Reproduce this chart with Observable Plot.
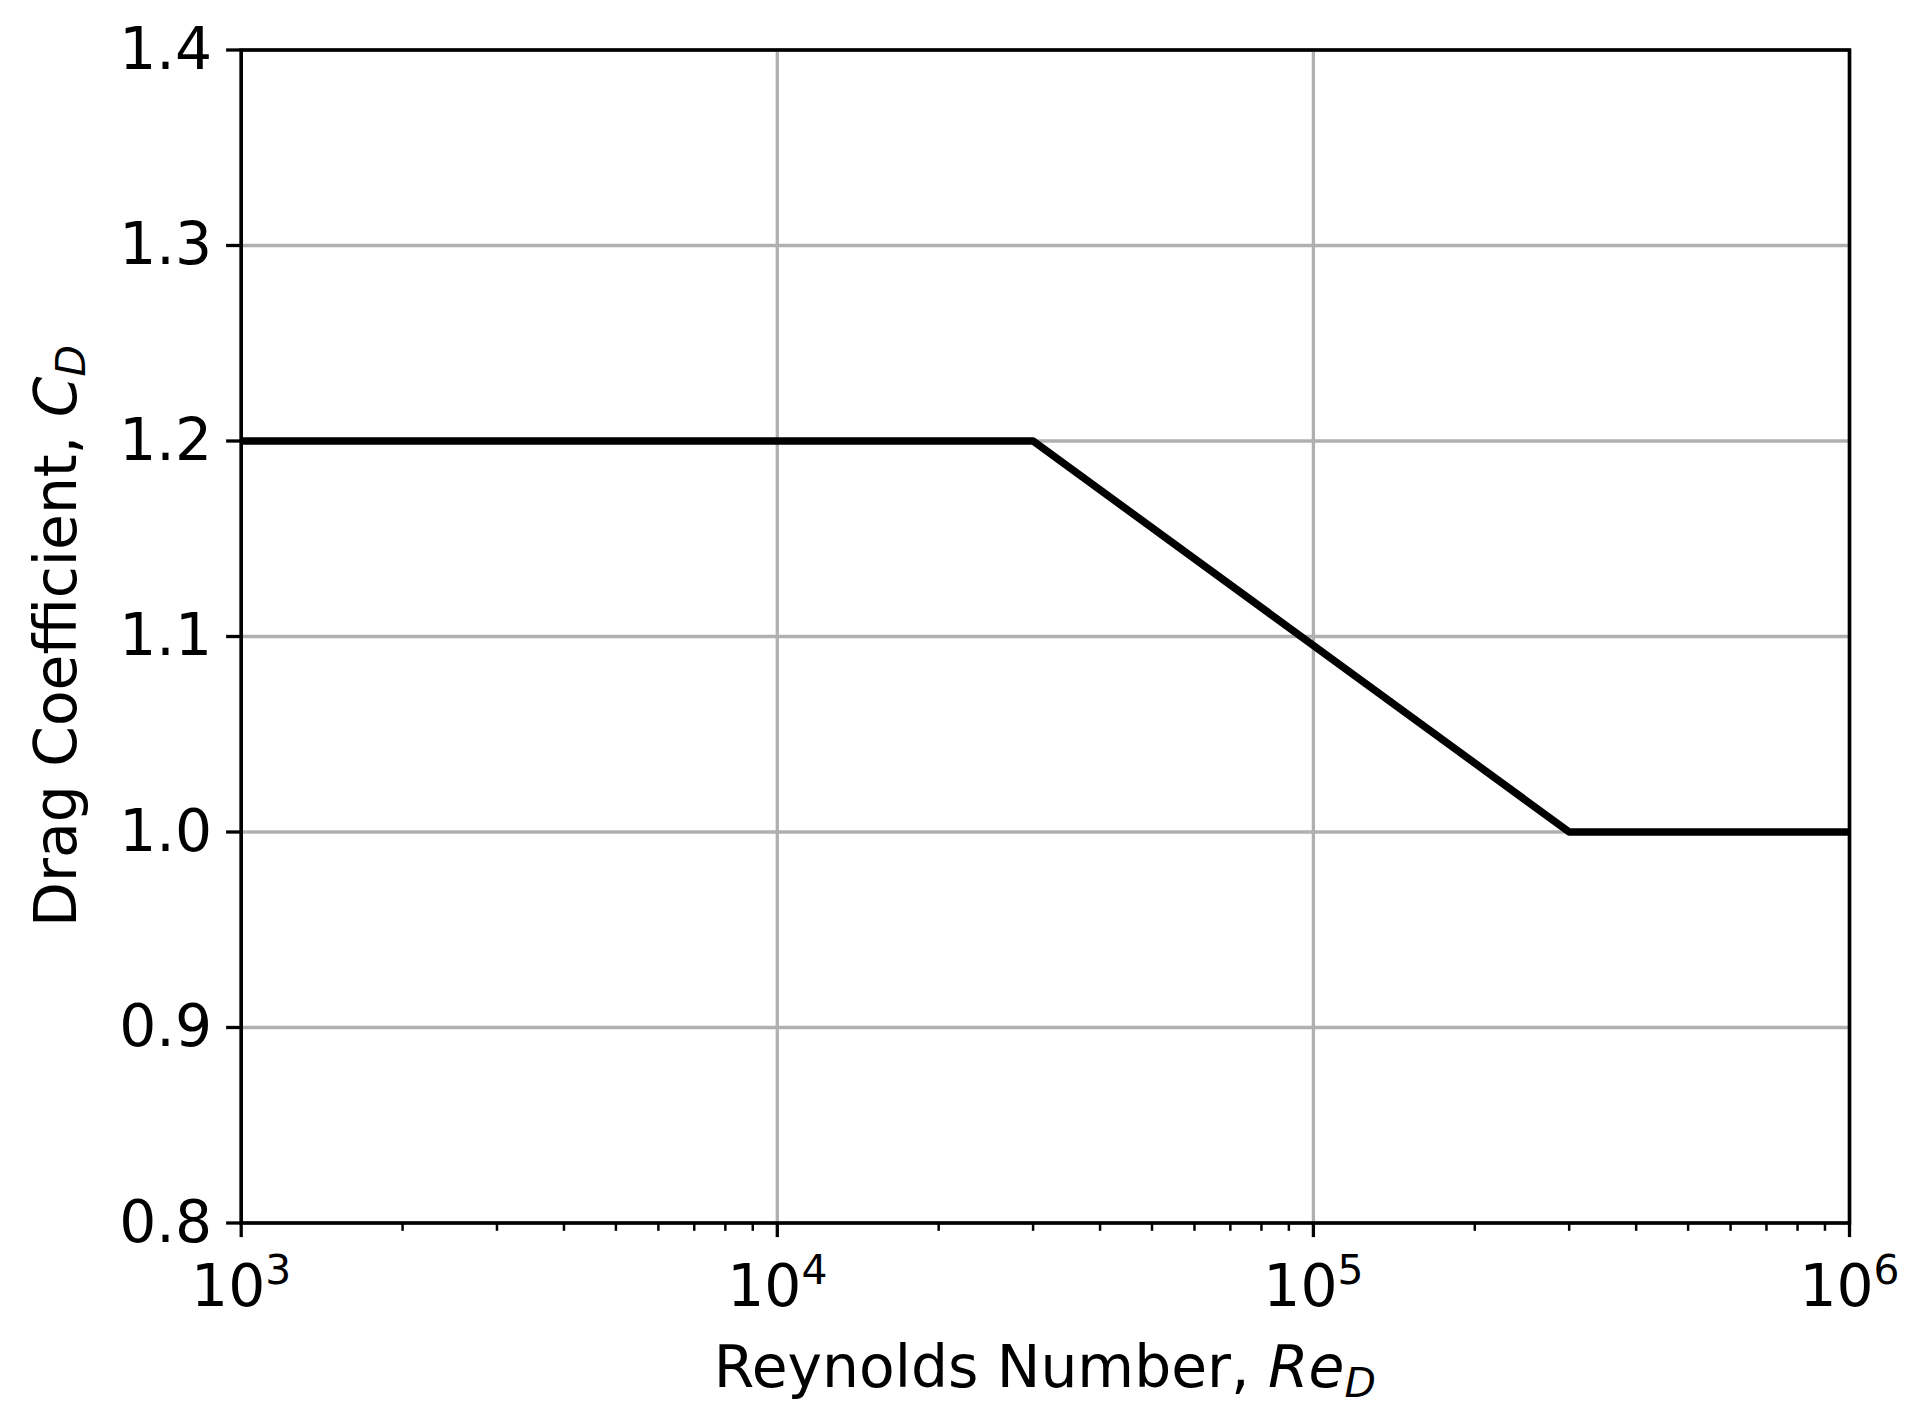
<!DOCTYPE html>
<html>
<head>
<meta charset="utf-8">
<script src="https://cdn.jsdelivr.net/npm/d3@7"></script>
<script src="https://cdn.jsdelivr.net/npm/@observablehq/plot@0.6"></script>
<style>
  html, body { margin: 0; padding: 0; background: #fff; }
  #chart svg { display: block; }
</style>
</head>
<body>
<div id="chart"></div>
<script>
// Data
const reynolds = [1e3, 3e4, 3e5, 1e6];
const dragCoef = [1.2, 1.2, 1.0, 1.0];
const xMajorTicks = [1e3, 1e4, 1e5, 1e6];
const xExponents = ["3", "4", "5", "6"];
const xMinorTicks = [2e3,3e3,4e3,5e3,6e3,7e3,8e3,9e3, 2e4,3e4,4e4,5e4,6e4,7e4,8e4,9e4, 2e5,3e5,4e5,5e5,6e5,7e5,8e5,9e5];
const yTicks = [0.8, 0.9, 1.0, 1.1, 1.2, 1.3, 1.4];
const xLabel = "Reynolds Number, ";
const yLabel = "Drag Coefficient, ";

const data = reynolds.map((x, i) => ({x, y: dragCoef[i]}));

const W = 1920, H = 1426;
const mL = 240.7, mR = 71, mT = 49.5, mB = 203.5;
const FS = 58.3;

const chart = Plot.plot({
  width: W,
  height: H,
  marginLeft: mL,
  marginRight: mR,
  marginTop: mT,
  marginBottom: mB,
  style: {fontFamily: "DejaVu Sans", fontSize: FS + "px", color: "black", background: "white", overflow: "visible"},
  x: {type: "log", domain: [1e3, 1e6], label: null},
  y: {domain: [0.8, 1.4], label: null},
  marks: [
    Plot.gridX(xMajorTicks, {stroke: "#b0b0b0", strokeOpacity: 1, strokeWidth: 3.3}),
    Plot.gridY(yTicks, {stroke: "#b0b0b0", strokeOpacity: 1, strokeWidth: 3.3}),
    Plot.line(data, {x: "x", y: "y", stroke: "black", strokeWidth: 7.5, strokeLinejoin: "round", strokeLinecap: "square", clip: true}),
    Plot.frame({stroke: "black", strokeWidth: 3.6}),
    Plot.axisX(xMinorTicks, {tickSize: 8.3, strokeWidth: 2.5, fill: "none", tickFormat: () => "", label: null}),
    Plot.axisX(xMajorTicks, {tickSize: 14.6, strokeWidth: 3.3, tickPadding: 26.5, tickFormat: () => "10", label: null, fontSize: FS}),
    Plot.axisY(yTicks, {tickSize: 14.6, strokeWidth: 3.3, tickPadding: 14.6, tickFormat: d3.format(".1f"), label: null, fontSize: FS})
  ]
});

document.getElementById("chart").appendChild(chart);

const svg = d3.select(chart);

// Superscript exponents on x tick labels
svg.selectAll('g[aria-label="x-axis tick label"] text').each(function(d, i) {
  const t = d3.select(this);
  const child = t.select("tspan");
  if (!child.empty() && child.attr("dy") && !t.attr("dy")) t.attr("dy", child.attr("dy"));
  t.text(null);
  t.append("tspan").text("10");
  t.append("tspan").attr("dy", -22).attr("font-size", (FS * 0.7) + "px").text(xExponents[i]);
});

// Axis labels with italic / subscript parts (mathtext style)
const xl = svg.append("text")
  .attr("x", mL + (W - mL - mR) / 2)
  .attr("y", 1387)
  .attr("text-anchor", "middle")
  .attr("fill", "black")
  .attr("font-family", "DejaVu Sans")
  .attr("font-size", FS + "px");
xl.append("tspan").text(xLabel);
xl.append("tspan").attr("font-style", "italic").text("Re");
xl.append("tspan").attr("font-style", "italic").attr("font-size", (FS * 0.7) + "px").attr("dy", 10).text("D");

const yl = svg.append("text")
  .attr("transform", `translate(76, ${mT + (H - mT - mB) / 2}) rotate(-90)`)
  .attr("text-anchor", "middle")
  .attr("fill", "black")
  .attr("font-family", "DejaVu Sans")
  .attr("font-size", FS + "px");
yl.append("tspan").text(yLabel);
yl.append("tspan").attr("font-style", "italic").text("C");
yl.append("tspan").attr("font-style", "italic").attr("font-size", (FS * 0.7) + "px").attr("dy", 9).text("D");
</script>
</body>
</html>
